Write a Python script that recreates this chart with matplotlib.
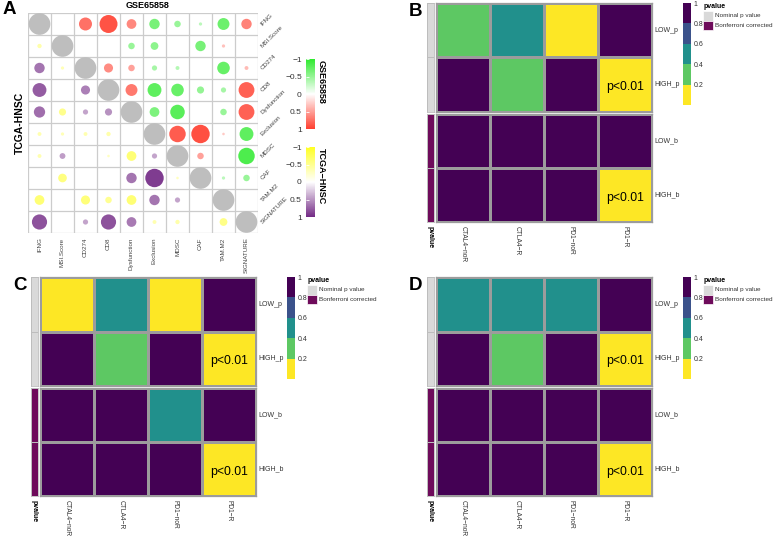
import numpy as np
import matplotlib
matplotlib.use("Agg")
import matplotlib.pyplot as plt
from matplotlib.colors import LinearSegmentedColormap, ListedColormap, BoundaryNorm, Normalize
from matplotlib.cm import ScalarMappable
from matplotlib.patches import Rectangle

plt.rcParams['font.family'] = ['Liberation Sans', 'DejaVu Sans']

# ---- panel A data: upper triangle GSE65858, lower triangle TCGA-HNSC ----
sig_names = ["IFNG", "MSI.Score", "CD274", "CD8", "Dysfunction", "Exclusion",
             "MDSC", "CAF", "TAM.M2", "SIGNATURE"]
nan = np.nan
corr = np.array([
    [1, nan, 0.6, 0.83, 0.45, -0.48, -0.3, -0.15, -0.55, 0.48],
    [-0.2, 1, nan, nan, -0.3, -0.36, nan, -0.48, 0.15, nan],
    [0.48, -0.15, 1, 0.42, 0.3, -0.24, -0.18, nan, -0.58, 0.18],
    [0.64, nan, 0.42, 1, 0.55, -0.64, -0.58, -0.33, -0.24, 0.73],
    [0.52, -0.33, 0.24, 0.33, 1, -0.45, -0.67, nan, -0.3, 0.73],
    [-0.18, -0.15, -0.18, -0.2, nan, 1, 0.76, 0.85, 0.12, -0.64],
    [-0.18, 0.27, nan, -0.12, -0.45, 0.24, 1, 0.3, nan, -0.76],
    [nan, -0.4, nan, nan, 0.48, 0.85, -0.12, 1, -0.15, -0.3],
    [-0.45, nan, -0.42, -0.3, -0.45, 0.48, 0.24, nan, 1, nan],
    [0.7, nan, 0.24, 0.7, 0.45, -0.18, -0.2, nan, -0.36, 1],
])

# ---- panels B-D data (p values) ----
therapy = ["CTAL4\u2212noR", "CTLA4\u2212R", "PD1\u2212noR", "PD1\u2212R"]
rows_nominal = ["LOW_p", "HIGH_p"]
rows_bonf = ["LOW_b", "HIGH_b"]
B_nominal = [[0.3, 0.5, 0.1, 1.0], [1.0, 0.3, 1.0, 0.005]]
B_bonf = [[1.0, 1.0, 1.0, 1.0], [1.0, 1.0, 1.0, 0.005]]
C_nominal = [[0.1, 0.5, 0.1, 1.0], [1.0, 0.3, 1.0, 0.005]]
C_bonf = [[1.0, 1.0, 0.5, 1.0], [1.0, 1.0, 1.0, 0.005]]
D_nominal = [[0.5, 0.5, 0.5, 1.0], [1.0, 0.3, 1.0, 0.005]]
D_bonf = [[1.0, 1.0, 1.0, 1.0], [1.0, 1.0, 1.0, 0.005]]

W, H = 778, 536
fig = plt.figure(figsize=(W / 100, H / 100), dpi=100)


def box(x0, y0, x1, y1):
    return [x0 / W, 1 - y1 / H, (x1 - x0) / W, (y1 - y0) / H]


def ftext(x, y, s, **kw):
    fig.text(x / W, 1 - y / H, s, **kw)


# ================= panel A =================
gse_cmap = LinearSegmentedColormap.from_list("gse", ["#2EEA2E", "white", "#FF4030"])
tcga_cmap = LinearSegmentedColormap.from_list("tcga", ["#FFFF22", "white", "#732A85"])
cnorm = Normalize(-1, 1)

axA = fig.add_axes(box(28, 13, 258, 233))
axA.set_xlim(0, 10)
axA.set_ylim(10, 0)
for k in range(11):
    axA.axvline(k, color="#CCCCCC", lw=0.9, zorder=1)
    axA.axhline(k, color="#CCCCCC", lw=0.9, zorder=1)
for sp in axA.spines.values():
    sp.set_visible(False)
axA.set_xticks([])
axA.set_yticks([])

n = len(sig_names)
for i in range(n):
    for j in range(n):
        v = corr[i, j]
        if np.isnan(v):
            continue
        # colour intensity slightly boosted, as in the original corrplot
        cv = np.sign(v) * abs(v) ** 0.6
        if i == j:
            col = "#BEBEBE"
        elif j > i:
            col = gse_cmap(cnorm(cv))
        else:
            col = tcga_cmap(cnorm(cv))
        d = 15.6 * abs(v)
        axA.scatter(j + 0.5, i + 0.5, s=d ** 2, color=col, edgecolors="none", zorder=2)

for i, name in enumerate(sig_names):
    axA.text(10.15, i + 0.55, name, rotation=45, ha="left", va="center",
             rotation_mode="anchor", fontsize=4.5, color="#444444", clip_on=False)
    axA.text(i + 0.5, 10.2, name, rotation=90, ha="center", va="top",
             fontsize=4.5, color="#444444", clip_on=False)

ftext(148, 6, "GSE65858", ha="center", va="center", fontsize=6.5, fontweight="bold")
ftext(20, 123, "TCGA-HNSC", ha="center", va="center", rotation=90,
      fontsize=7.5, fontweight="bold")

for (y0, y1, cm, lab) in [(59, 129, gse_cmap, "GSE65858"), (147, 217, tcga_cmap, "TCGA\u2212HNSC")]:
    cax = fig.add_axes(box(306, y0, 315, y1))
    cb = fig.colorbar(ScalarMappable(norm=cnorm, cmap=cm), cax=cax)
    cb.outline.set_visible(False)
    cax.invert_yaxis()
    cax.yaxis.set_ticks_position("left")
    cb.set_ticks([-1, -0.5, 0, 0.5, 1])
    cb.set_ticklabels(["\u22121", "\u22120.5", "0", "0.5", "1"])
    cax.minorticks_off()
    cax.tick_params(axis="y", direction="in", length=2.5, width=0.6, color="white",
                    labelsize=6, labelcolor="#333333", pad=3)
    ftext(317, y0 + 1, lab, ha="left", va="top", rotation=270,
          fontsize=6.5, fontweight="bold")

ftext(3, 10, "A", ha="left", va="center", fontsize=13.5, fontweight="bold")

# ================= panels B-D =================
pv_colors = ["#FDE725", "#5DC863", "#21908C", "#3B528B", "#440154"]
pv_bounds = [0, 0.2, 0.4, 0.6, 0.8, 1.0]
pv_cmap = ListedColormap(pv_colors)
pv_norm = BoundaryNorm(pv_bounds, pv_cmap.N)
edge = "#9C9C9C"


def heat_block(rect, vals, row_names, ann_rect, ann_color):
    ax = fig.add_axes(box(*rect))
    ax.pcolormesh(np.array(vals), cmap=pv_cmap, norm=pv_norm,
                  edgecolors=edge, linewidth=0.8)
    ax.set_ylim(2, 0)
    ax.set_xlim(0, 4)
    ax.set_xticks([])
    ax.set_yticks([])
    for sp in ax.spines.values():
        sp.set_color(edge)
        sp.set_linewidth(0.9)
    for r, name in enumerate(row_names):
        ax.text(4.04, r + 0.5, name, ha="left", va="center", fontsize=5,
                color="#333333", clip_on=False)
        for c in range(4):
            if vals[r][c] < 0.01:
                ax.text(c + 0.5, r + 0.55, "p<0.01", ha="center", va="center",
                        fontsize=8.8)
    aax = fig.add_axes(box(*ann_rect))
    aax.pcolormesh(np.zeros((2, 1)), cmap=ListedColormap([ann_color]),
                   edgecolors="#BDBDBD", linewidth=0.6)
    aax.set_ylim(2, 0)
    aax.set_xticks([])
    aax.set_yticks([])
    for sp in aax.spines.values():
        sp.set_color("#BDBDBD")
        sp.set_linewidth(0.6)
    return ax


def pvalue_panel(ox, oy, nominal, bonf, letter):
    heat_block((436 + ox, 3 + oy, 652 + ox, 112 + oy), nominal, rows_nominal,
               (427 + ox, 3 + oy, 434 + ox, 112 + oy), "#D9D9D9")
    heat_block((436 + ox, 114 + oy, 652 + ox, 222 + oy), bonf, rows_bonf,
               (427 + ox, 114 + oy, 434 + ox, 222 + oy), "#6E0B5B")
    col_w = (652 - 436) / 4
    for c, name in enumerate(therapy):
        ftext(436 + ox + col_w * (c + 0.5), 226 + oy, name, rotation=270,
              ha="center", va="top", fontsize=4.8, color="#333333")
    ftext(430.5 + ox, 226 + oy, "pvalue", rotation=270, ha="center", va="top",
          fontsize=5, fontweight="bold")

    cax = fig.add_axes(box(683 + ox, 3 + oy, 691 + ox, 105 + oy))
    cb = fig.colorbar(ScalarMappable(norm=pv_norm, cmap=pv_cmap), cax=cax,
                      boundaries=pv_bounds, spacing="proportional")
    cb.outline.set_visible(False)
    cb.set_ticks([0.2, 0.4, 0.6, 0.8, 1.0])
    cb.set_ticklabels(["0.2", "0.4", "0.6", "0.8", "1"])
    cax.minorticks_off()
    cax.tick_params(axis="y", which="both", length=0, labelsize=5,
                    labelcolor="#333333", pad=2)

    ftext(704 + ox, 6 + oy, "pvalue", ha="left", va="center", fontsize=5,
          fontweight="bold")
    for k, (colr, lab) in enumerate([("#D9D9D9", "Nominal p value"),
                                     ("#6E0B5B", "Bonferroni corrected")]):
        y0 = 11 + oy + k * 9.5
        fig.patches.append(Rectangle(((703 + ox) / W, 1 - (y0 + 9.5) / H),
                                     10 / W, 9.5 / H, transform=fig.transFigure,
                                     facecolor=colr, edgecolor="white", lw=0.5))
        ftext(715 + ox, y0 + 5, lab, ha="left", va="center", fontsize=4.6,
              color="#333333")

    ftext(409 + ox, 11 + oy, letter, ha="left", va="center", fontsize=13.5,
          fontweight="bold")


pvalue_panel(0, 0, B_nominal, B_bonf, "B")
pvalue_panel(-396, 274, C_nominal, C_bonf, "C")
pvalue_panel(0, 274, D_nominal, D_bonf, "D")

fig.savefig("out.png", dpi=100)
